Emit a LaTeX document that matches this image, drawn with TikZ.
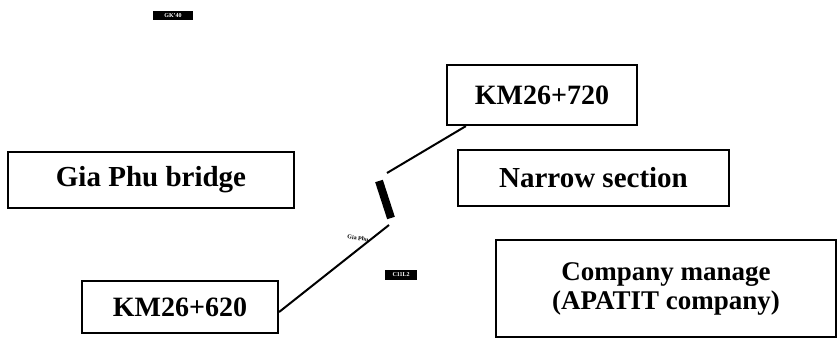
\documentclass[tikz,border=0pt]{standalone}
\usepackage{fontspec}
\setmainfont{Liberation Serif}
\begin{document}
\begin{tikzpicture}[x=1pt,y=-1pt,
  box/.style={draw=black,line width=2.2pt,inner sep=0pt,align=center,font=\bfseries\fontsize{29}{30}\selectfont},
  tag/.style={fill=black,text=white,inner sep=1pt,font=\bfseries\fontsize{6}{6}\selectfont},
  conn/.style={line width=2pt}]
\useasboundingbox (0,0) rectangle (837,339);
\node[box,minimum width=190pt,minimum height=60pt,font=\bfseries\fontsize{28}{30}\selectfont] (top) at (542,95) {KM26+720};
\node[box,minimum width=286pt,minimum height=56pt] (gia) at (151,180) {Gia Phu bridge};
\node[box,minimum width=271pt,minimum height=56pt] (narrow) at (593.5,178) {Narrow section};
\node[box,minimum width=340pt,minimum height=97pt,font=\bfseries\fontsize{27}{29}\selectfont] (company) at (666,288.5) {Company manage\\(APATIT company)};
\node[box,minimum width=196pt,minimum height=52pt,font=\bfseries\fontsize{28}{30}\selectfont] (low) at (180,307) {KM26+620};
\node[tag,minimum width=40pt,minimum height=9pt] (tagA) at (173,15.5) {GK'40};
\node[tag,minimum width=32pt,minimum height=10pt] (tagB) at (401,275) {C11L2};
\coordinate (b1) at (379,181);
\coordinate (b2) at (391,218);
\draw[line width=8pt] (b1) -- (b2);
\coordinate (u) at (387,173);
\coordinate (d) at (389,225);
\draw[conn] ([xshift=20pt]top.south west) -- (u);
\draw[conn] (d) -- ([yshift=-5pt]low.east);
\node[font=\bfseries\fontsize{6}{6}\selectfont,rotate=-8] (gp) at (358,238) {Gia Phu};
\end{tikzpicture}
\end{document}
